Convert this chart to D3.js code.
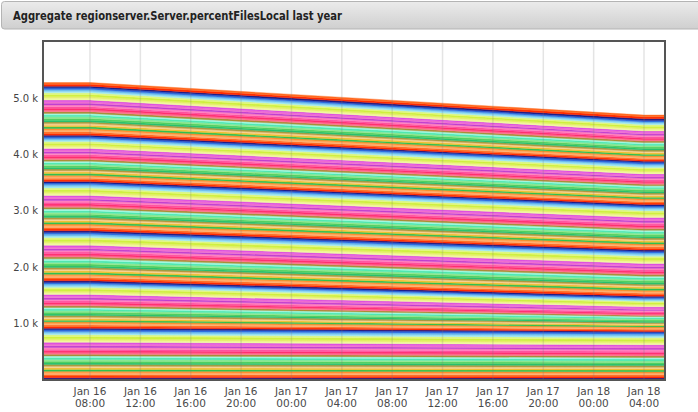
<!DOCTYPE html>
<html><head><meta charset="utf-8">
<script src="https://cdn.jsdelivr.net/npm/d3@7"></script>
<style>
html,body{margin:0;padding:0;background:#fff;}
svg{display:block;font-family:"DejaVu Sans",Verdana,sans-serif;}
</style></head>
<body>
<svg id="chart" width="698" height="412"></svg>
<script>
// ---- data ----
const title = "Aggregate regionserver.Server.percentFilesLocal last year";
// sample times (series are flat before the first knee and after the second)
const times = ["2015-01-16T04:16", "2015-01-16T08:00", "2015-01-18T04:00", "2015-01-18T05:40"];
const yTicks = [1000, 2000, 3000, 4000, 5000];
// colour cycle used by the series, bottom to top
const palette = ["#1e1e8c","#ff2a00","#ff6a20","#ffb070","#ff9030","#30c050","#f0c030","#f8d090",
  "#b09a40","#28c070","#50d060","#90e890","#50e8b0","#a0f8e0","#a89038","#ff7090","#ff3070",
  "#ff50a0","#ff80c0","#c040d0","#f070d0","#e050e0","#f0f8a0","#e8f070","#d0f040","#e0f880",
  "#a0e8f0","#70c0f0","#3070e0"];
// per-host values at Jan 16 (flat start) and Jan 18 (flat end), in groups of hosts
const group1Start = [30,31,27,31,29,31,29,27,31,29,31,29,35,29,31,29,31,29,31,29,31,31,33,31,39,31,29,31,31];
const group1End   = [28,29,25,29,27,29,27,25,29,27,29,27,33,27,29,27,29,27,29,27,29,29,31,29,37,31,29,31,31];
const group2Start = [27,29,26,29,28,29,28,25,30,27,30,27,32,28,29,28,29,28,29,28,30,30,31,30,35,30,28,30,29];
const group2End   = [19,21,18,21,20,21,20,17,22,19,22,19,24,20,21,20,22,21,22,21,23,23,24,23,28,23,21,23,22];
const group3Start = [29,31,27,31,29,32,29,27,31,29,32,29,35,29,31,29,31,29,31,29,31,31,35,31,40,31,29,31,31];
const group3End   = [26,28,24,28,26,29,26,24,28,26,29,26,33,27,29,27,29,27,29,27,29,29,33,29,38,29,27,29,29];
const group4Start = [29,31,27,33,29,31,29,25,31,29,31,29,33,29,31,29,31,29,31,29,31,31,33,31,37,31,29,31,30];
const group4End   = [26,28,24,30,26,28,26,22,28,26,28,26,31,27,29,27,29,27,29,27,29,29,31,29,35,29,27,29,28];
const group5Start = [27,29,25,29,27,29,27,25,29,27,29,27,30,27,29,27,29,27,29,27,29,29,31,29,33,29,27,29,29];
const group5End   = [25,27,23,27,25,27,25,23,27,25,27,25,28,25,27,25,27,25,27,25,27,27,29,27,31,29,27,29,29];
const group6Start = [29,31,27,31,29,31,29,27,31,29,31,29,33,29,31,29,31,29,30,28,30,30,32,30,36,30,28,30,30];
const group6End   = [24,26,22,26,25,27,25,23,27,25,27,25,29,25,27,25,27,25,26,24,26,26,28,26,32,26,24,26,26];
const group7Start = [30,34,31];
const group7End   = [30,34,31];

// ---- build table ----
const startVals = [].concat(group1Start,group2Start,group3Start,group4Start,group5Start,group6Start,group7Start);
const endVals   = [].concat(group1End,group2End,group3End,group4End,group5End,group6End,group7End);
const parse = d3.timeParse("%Y-%m-%dT%H:%M");
const tDates = times.map(parse);
const keys = startVals.map((_, i) => "h" + i);
const rows = tDates.map((t, ti) => {
  const r = {t};
  keys.forEach((k, i) => { r[k] = ti < 2 ? startVals[i] : endVals[i]; });
  return r;
});
const stacked = d3.stack().keys(keys)(rows);

// ---- layout ----
const svg = d3.select("#chart");
const L = 43, R = 665, T = 41, B = 379.5;
const x = d3.scaleTime().domain([tDates[0], tDates[3]]).range([L, R]);
const y = d3.scaleLinear().domain([0, 6000]).range([B, T + 1]);

// title bar
const defs = svg.append("defs");
const g = defs.append("linearGradient").attr("id","tb").attr("x1",0).attr("y1",0).attr("x2",0).attr("y2",1);
g.append("stop").attr("offset","0%").attr("stop-color","#ebebeb");
g.append("stop").attr("offset","100%").attr("stop-color","#cfcfcf");
svg.append("rect").attr("x",1.5).attr("y",1.5).attr("width",700).attr("height",27.5)
  .attr("rx",3).attr("fill","url(#tb)").attr("stroke","#b4b4b4").attr("stroke-width",1);
svg.append("text").attr("x",13).attr("y",20).attr("font-size",11.8).attr("font-weight","bold")
  .attr("font-family","'DejaVu Sans Condensed','DejaVu Sans',sans-serif")
  .attr("textLength",329).attr("lengthAdjust","spacingAndGlyphs")
  .attr("fill","#222").text(title);

defs.append("clipPath").attr("id","clip").append("rect")
  .attr("x",L).attr("y",T).attr("width",R-L).attr("height",B-T);

// areas
const area = d3.area().x(d => x(d.data.t)).y0(d => y(d[0])).y1(d => y(d[1]));
svg.append("g").attr("clip-path","url(#clip)").selectAll("path").data(stacked).join("path")
  .attr("d", area)
  .attr("fill", (d, i) => palette[i % palette.length])
  .attr("stroke", (d, i) => palette[i % palette.length])
  .attr("stroke-width", 0.4);

// vertical grid
const ticks = x.ticks(d3.timeHour.every(4)).filter(t => x(t) > L + 5 && x(t) < R - 5);
svg.append("g").selectAll("line").data(ticks).join("line")
  .attr("x1", d => x(d)).attr("x2", d => x(d)).attr("y1", T).attr("y2", B)
  .attr("stroke","rgba(120,120,120,0.2)").attr("stroke-width",1.5);

// frame
svg.append("rect").attr("x",L).attr("y",T).attr("width",R-L).attr("height",B-T+0.5)
  .attr("fill","none").attr("stroke","#555").attr("stroke-width",2);

// y labels
svg.append("g").selectAll("text").data(yTicks).join("text")
  .attr("x", 38).attr("y", d => y(d) + 3.5).attr("text-anchor","end")
  .attr("font-size",10).attr("fill","#444").text(d => d3.format(".1f")(d/1000) + " k");

// x labels
const fd = d3.timeFormat("%b %d"), fh = d3.timeFormat("%H:%M");
const xl = svg.append("g").selectAll("g").data(ticks).join("g")
  .attr("transform", d => `translate(${x(d)},0)`);
xl.append("text").attr("y",395).attr("text-anchor","middle").attr("font-size",10.5)
  .attr("fill","#4a4a4a").text(fd);
xl.append("text").attr("y",407).attr("text-anchor","middle").attr("font-size",10.5)
  .attr("fill","#4a4a4a").text(fh);
</script>
</body></html>
